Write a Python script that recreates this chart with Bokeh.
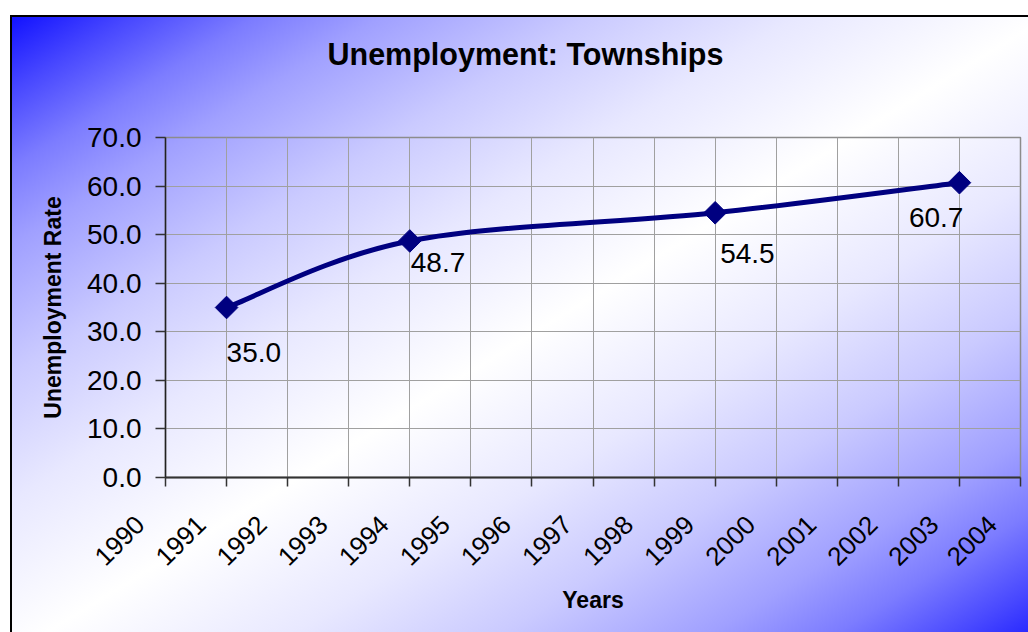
import numpy as np
from bokeh.plotting import figure
from bokeh.models import FixedTicker, Range1d, ColumnDataSource, LinearAxis, Title
from bokeh.core.properties import value
from bokeh.embed import file_html
from bokeh.resources import INLINE

# ---- data ----
years = [1991, 1994, 1999, 2003]
rates = [35.0, 48.7, 54.5, 60.7]
rate_labels = ["35.0", "48.7", "54.5", "60.7"]
year_ticks = list(range(1990, 2005))
year_tick_labels = [str(y) for y in year_ticks]
rate_ticks = [0, 10, 20, 30, 40, 50, 60, 70]
rate_tick_labels = ["0.0", "10.0", "20.0", "30.0", "40.0", "50.0", "60.0", "70.0"]

# ---- label placement (style only, screen px) ----
label_dx = [0, 1, 5, 4]
label_dy = [45, 22, 41, 35]
label_align = ["left", "left", "left", "right"]

FONT = "Liberation Sans"
NAVY = "#000080"
PAD = "\u00a0" * 5   # shifts rotated year labels along their direction

p = figure(width=1028, height=632, output_backend="svg", toolbar_location=None,
           title=None,
           x_range=Range1d(1990, 2004), y_range=Range1d(0, 70),
           min_border_left=165, min_border_right=8, min_border_top=137, min_border_bottom=155)

p.border_fill_color = None
p.background_fill_color = None
p.outline_line_color = "#8c8c8c"
p.outline_line_width = 1.5

stops = ("#1010ff 0%, #4848ff 6%, #7c7cff 12%, #a0a0ff 18%, #cacaff 28%, #e8e8ff 38%, "
         "#ffffff 50%, #e8e8ff 62%, #cacaff 72%, #a0a0ff 82%, #7c7cff 88%, #4848ff 94%, #1010ff 100%")
p.styles = {
    "background": (
        "linear-gradient(#000,#000) 10px 15px / 2px 100% no-repeat, "
        "linear-gradient(#000,#000) 10px 15px / 100% 2px no-repeat, "
        f"linear-gradient(to bottom right, {stops}) 10px 15px / 1040px 640px no-repeat, "
        "#ffffff"
    )
}

xa = p.below[0]
ya = p.left[0]

# spacer between frame and title: one invisible tick, empty label, no line
spacer = LinearAxis(ticker=FixedTicker(ticks=[1997]), major_label_overrides={1997: ""},
                    axis_line_color=None, major_tick_line_color=None, minor_tick_line_color=None,
                    major_tick_out=62, major_tick_in=0, major_label_standoff=0,
                    major_label_text_font_size="1px")
p.add_layout(spacer, "above")

# title (added after the spacer so it sits further from the frame)
title = Title(text="Unemployment: Townships", text_font=FONT, text_font_size="30.5px",
              text_font_style="bold", text_color="#000000", align="left", offset=162)
p.add_layout(title, "above")

# axes
xa.ticker = FixedTicker(ticks=year_ticks)
xa.major_label_overrides = {t: l + PAD for t, l in zip(year_ticks, year_tick_labels)}
xa.major_label_orientation = np.pi / 4
xa.major_label_text_font = FONT
xa.major_label_text_font_size = "26px"
xa.major_label_text_color = "#000000"
xa.axis_label = "Years"
xa.axis_label_text_font = FONT
xa.axis_label_text_font_size = "23px"
xa.axis_label_text_font_style = "bold"
xa.axis_label_text_color = "#000000"
xa.axis_label_standoff = 2
xa.major_label_standoff = 8
xa.axis_line_color = "#333333"
xa.axis_line_width = 2
xa.major_tick_line_color = "#333333"
xa.major_tick_line_width = 1.5
xa.major_tick_out = 9
xa.major_tick_in = 0
xa.minor_tick_line_color = None

ya.ticker = FixedTicker(ticks=rate_ticks)
ya.major_label_overrides = {t: l for t, l in zip(rate_ticks, rate_tick_labels)}
ya.major_label_text_font = FONT
ya.major_label_text_font_size = "28px"
ya.major_label_text_color = "#000000"
ya.axis_label = "Unemployment Rate"
ya.axis_label_text_font = FONT
ya.axis_label_text_font_size = "23px"
ya.axis_label_text_font_style = "bold"
ya.axis_label_text_color = "#000000"
ya.axis_label_standoff = 18
ya.major_label_standoff = 14
ya.axis_line_color = "#222222"
ya.axis_line_width = 1.5
ya.major_tick_line_color = "#333333"
ya.major_tick_line_width = 1.5
ya.major_tick_out = 10
ya.major_tick_in = 0
ya.minor_tick_line_color = None

p.xgrid.ticker = FixedTicker(ticks=year_ticks)
p.ygrid.ticker = FixedTicker(ticks=rate_ticks)
for g in (p.xgrid[0], p.ygrid[0]):
    g.grid_line_color = "#a0a0a0"
    g.grid_line_width = 1

# smoothed line (Catmull-Rom style Bezier through the data points)
n = len(years)
x0, y0, x1, y1, cx0, cy0, cx1, cy1 = ([] for _ in range(8))
for i in range(n - 1):
    pa = (years[max(i - 1, 0)], rates[max(i - 1, 0)])
    pb = (years[i], rates[i])
    pc = (years[i + 1], rates[i + 1])
    pd = (years[min(i + 2, n - 1)], rates[min(i + 2, n - 1)])
    x0.append(pb[0]); y0.append(pb[1]); x1.append(pc[0]); y1.append(pc[1])
    cx0.append(pb[0] + (pc[0] - pa[0]) / 6); cy0.append(pb[1] + (pc[1] - pa[1]) / 6)
    cx1.append(pc[0] - (pd[0] - pb[0]) / 6); cy1.append(pc[1] - (pd[1] - pb[1]) / 6)
p.bezier(x0=x0, y0=y0, x1=x1, y1=y1, cx0=cx0, cy0=cy0, cx1=cx1, cy1=cy1,
         line_color=NAVY, line_width=5)

p.scatter(years, rates, marker="square", angle=np.pi / 4, size=16,
          fill_color=NAVY, line_color=NAVY)

# data labels
for align in ("left", "right"):
    idx = [i for i, a in enumerate(label_align) if a == align]
    src = ColumnDataSource(dict(
        x=[years[i] for i in idx], y=[rates[i] for i in idx],
        t=[rate_labels[i] for i in idx],
        dx=[label_dx[i] for i in idx], dy=[label_dy[i] for i in idx]))
    p.text(x="x", y="y", text="t", x_offset="dx", y_offset="dy", source=src,
           text_font=value(FONT), text_font_size="28px", text_color="#000000",
           text_align=align, text_baseline="alphabetic")

open("out.html", "w").write(file_html(p, INLINE))
